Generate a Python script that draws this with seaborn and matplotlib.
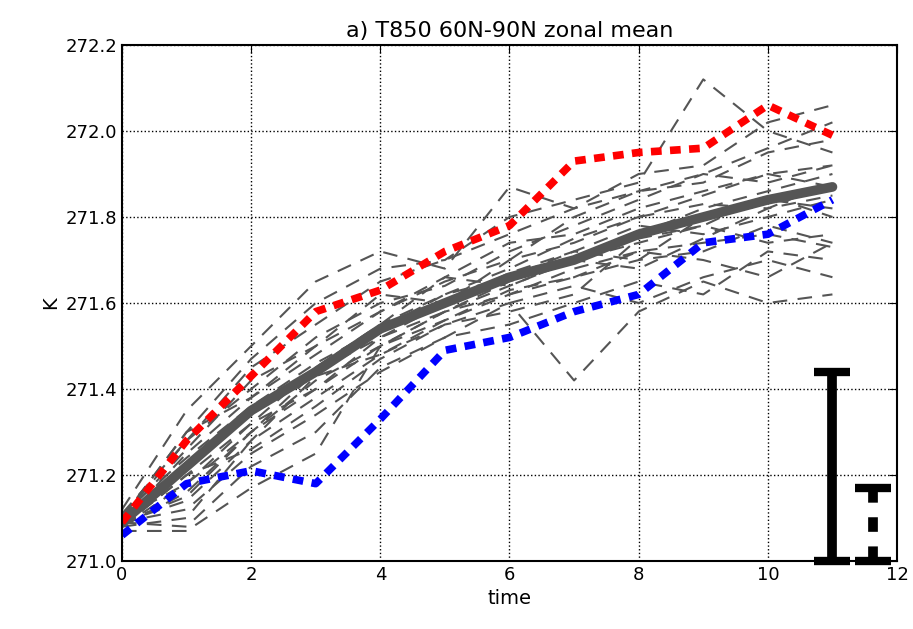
import numpy as np
import pandas as pd
import matplotlib
matplotlib.use("Agg")
import matplotlib.pyplot as plt
import seaborn as sns

time = list(range(12))

# ensemble members (thin dashed gray)
members = [
    [271.10, 271.30, 271.47, 271.60, 271.68, 271.70, 271.80, 271.84, 271.88, 272.12, 272.00, 271.95],
    [271.12, 271.35, 271.50, 271.65, 271.72, 271.68, 271.87, 271.82, 271.90, 271.92, 272.02, 272.06],
    [271.08, 271.20, 271.32, 271.45, 271.55, 271.62, 271.68, 271.75, 271.80, 271.85, 271.90, 271.92],
    [271.09, 271.25, 271.38, 271.48, 271.58, 271.65, 271.70, 271.80, 271.86, 271.88, 271.95, 271.98],
    [271.10, 271.18, 271.30, 271.42, 271.50, 271.58, 271.62, 271.66, 271.70, 271.72, 271.78, 271.74],
    [271.08, 271.10, 271.28, 271.38, 271.48, 271.55, 271.60, 271.42, 271.58, 271.65, 271.60, 271.62],
    [271.09, 271.08, 271.22, 271.30, 271.45, 271.52, 271.55, 271.60, 271.65, 271.62, 271.72, 271.70],
    [271.07, 271.07, 271.17, 271.25, 271.50, 271.58, 271.65, 271.70, 271.68, 271.75, 271.82, 271.85],
    [271.11, 271.28, 271.40, 271.52, 271.60, 271.64, 271.72, 271.78, 271.84, 271.90, 271.88, 271.92],
    [271.10, 271.22, 271.35, 271.45, 271.55, 271.66, 271.64, 271.70, 271.74, 271.78, 271.85, 271.80],
    [271.09, 271.15, 271.30, 271.40, 271.50, 271.56, 271.62, 271.68, 271.72, 271.70, 271.66, 271.74],
    [271.08, 271.20, 271.26, 271.36, 271.47, 271.55, 271.58, 271.62, 271.75, 271.78, 271.74, 271.76],
    [271.10, 271.26, 271.42, 271.50, 271.62, 271.60, 271.70, 271.74, 271.80, 271.83, 271.82, 271.88],
    [271.11, 271.24, 271.36, 271.46, 271.54, 271.62, 271.66, 271.72, 271.78, 271.76, 271.80, 271.84],
    [271.09, 271.12, 271.25, 271.34, 271.44, 271.52, 271.60, 271.64, 271.60, 271.66, 271.70, 271.66],
    [271.10, 271.28, 271.45, 271.55, 271.65, 271.70, 271.76, 271.82, 271.86, 271.90, 271.96, 272.02],
    [271.08, 271.18, 271.32, 271.40, 271.52, 271.58, 271.64, 271.70, 271.76, 271.82, 271.86, 271.90],
    [271.09, 271.14, 271.28, 271.43, 271.48, 271.56, 271.63, 271.66, 271.72, 271.74, 271.76, 271.73],
    [271.10, 271.30, 271.38, 271.50, 271.58, 271.66, 271.74, 271.76, 271.82, 271.86, 271.90, 271.87],
    [271.08, 271.16, 271.30, 271.44, 271.52, 271.60, 271.67, 271.72, 271.70, 271.80, 271.84, 271.82],
]

ens_mean = [271.09, 271.22, 271.35, 271.44, 271.54, 271.60, 271.66, 271.70, 271.76, 271.80, 271.84, 271.87]
red_run = [271.09, 271.28, 271.43, 271.58, 271.63, 271.72, 271.78, 271.93, 271.95, 271.96, 272.06, 271.99]
blue_run = [271.06, 271.18, 271.21, 271.18, 271.33, 271.49, 271.52, 271.58, 271.62, 271.74, 271.76, 271.84]

# spread bars: (x position, bottom, top)
spread_solid = (11.0, 271.0, 271.44)
spread_dashed = (11.63, 271.0, 271.17)

sns.set_style("white")
plt.rcParams.update({
    "font.family": ["DejaVu Sans"],
    "text.color": "black",
    "axes.labelcolor": "black",
    "xtick.direction": "in",
    "ytick.direction": "in",
    "xtick.top": True,
    "ytick.right": True,
    "xtick.major.size": 6,
    "ytick.major.size": 6,
    "xtick.color": "black",
    "ytick.color": "black",
    "axes.edgecolor": "black",
    "axes.linewidth": 1.5,
})

fig = plt.figure(figsize=(9.13, 6.29), dpi=100)
ax = fig.add_axes([0.1336, 0.108, 0.8489, 0.8205])

gray = "#555555"
for m in members:
    sns.lineplot(x=time, y=m, ax=ax, color=gray, linewidth=1.5,
                 legend=False).lines[-1].set_dashes((7, 5))

sns.lineplot(x=time, y=ens_mean, ax=ax, color=gray, linewidth=7, legend=False)
l = sns.lineplot(x=time, y=red_run, ax=ax, color="red", linewidth=5.5, legend=False).lines[-1]
l.set_dashes((1.4, 1.1))
l = sns.lineplot(x=time, y=blue_run, ax=ax, color="blue", linewidth=5.5, legend=False).lines[-1]
l.set_dashes((1.4, 1.1))

for (xp, lo, hi), ls in [(spread_solid, "-"), (spread_dashed, (0, (1.5, 1.5)))]:
    mid = (lo + hi) / 2
    eb = ax.errorbar([xp], [mid], yerr=[(hi - lo) / 2], fmt="none", ecolor="black",
                     elinewidth=7, capsize=13, capthick=6, zorder=5)
    for c in eb[1]:
        c.set_clip_on(False)
    for b in eb[2]:
        b.set_linestyle(ls)
        b.set_clip_on(False)

ax.set_xlim(0, 12)
ax.set_ylim(271.0, 272.2)
ax.set_xticks(range(0, 13, 2))
ax.set_yticks(np.arange(271.0, 272.21, 0.2))
ax.set_yticklabels([f"{v:.1f}" for v in np.arange(271.0, 272.21, 0.2)])
ax.tick_params(labelsize=13)
ax.grid(True, color="black", linestyle=":", linewidth=1)
ax.set_xlabel("time", fontsize=14)
ax.set_ylabel("K", fontsize=14)
ax.set_title("a) T850 60N-90N zonal mean", fontsize=16)

fig.savefig("out.png", dpi=100)
